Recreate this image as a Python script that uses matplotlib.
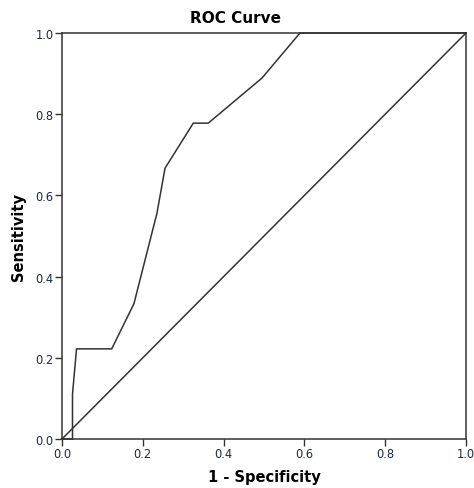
import matplotlib
matplotlib.use("Agg")
import matplotlib.pyplot as plt

# ROC curve points (1 - specificity, sensitivity)
fpr = [0.0, 0.026, 0.026, 0.036, 0.123, 0.178, 0.235, 0.255, 0.325, 0.362, 0.495, 0.589, 1.0]
tpr = [0.0, 0.0, 0.111, 0.222, 0.222, 0.333, 0.556, 0.667, 0.778, 0.778, 0.889, 1.0, 1.0]
ref_line = [0.0, 1.0]
ticks = [0.0, 0.2, 0.4, 0.6, 0.8, 1.0]
tick_labels = ["0.0", "0.2", "0.4", "0.6", "0.8", "1.0"]

ink = "#333333"
fig = plt.figure(figsize=(4.74, 4.89), dpi=100)
ax = fig.add_axes([62 / 474, 49 / 489, 404 / 474, 406 / 489])

ax.plot(fpr, tpr, color=ink, linewidth=1.1, solid_joinstyle="miter", clip_on=False)
ax.plot(ref_line, ref_line, color=ink, linewidth=1.1, clip_on=False)

ax.set_xlim(0, 1)
ax.set_ylim(0, 1)
ax.set_xticks(ticks)
ax.set_xticklabels(tick_labels)
ax.set_yticks(ticks)
ax.set_yticklabels(tick_labels)
ax.tick_params(direction="out", length=5, width=1, color=ink, labelsize=8.3,
               labelcolor="#1f2a3a", pad=1)
for s in ax.spines.values():
    s.set_color(ink)
    s.set_linewidth(1.1)

ax.set_xlabel("1 - Specificity", fontsize=10.5, fontweight="bold", labelpad=6)
ax.set_ylabel("Sensitivity", fontsize=10.5, fontweight="bold", labelpad=7)
fig.text(0.496, 0.962, "ROC Curve", ha="center", va="center",
         fontsize=11, fontweight="bold")

fig.savefig("out.png", dpi=100)
